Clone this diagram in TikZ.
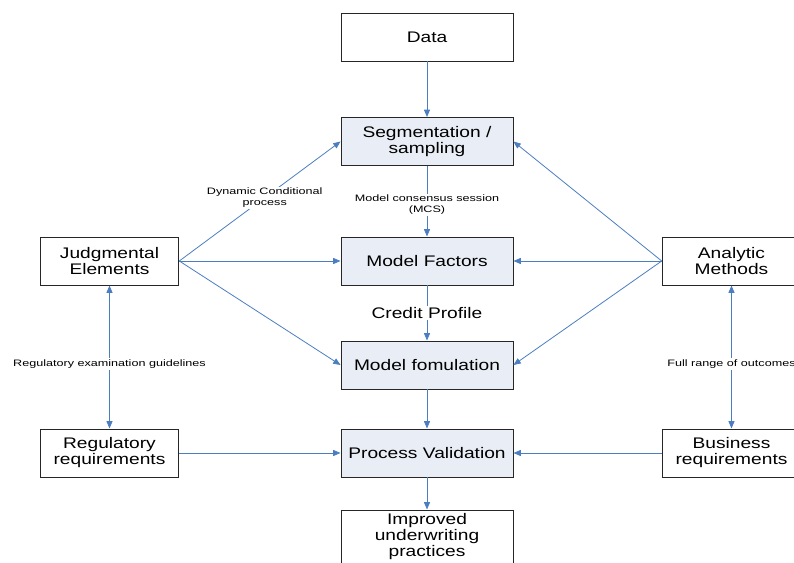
\documentclass[tikz,border=0pt]{standalone}
\usepackage{fontspec}
\setmainfont[FakeStretch=1.25]{Liberation Sans}
\newfontfamily\labelfont[FakeStretch=1.35]{Liberation Sans}
\usetikzlibrary{arrows.meta}
\definecolor{lineblue}{RGB}{74,126,193}
\definecolor{boxblue}{RGB}{233,238,246}

\begin{document}
\begin{tikzpicture}[x=0.75pt,y=-0.75pt,
  box/.style={draw=black!85,line width=0.7pt,minimum width=129pt,minimum height=36pt,
    inner sep=0pt,align=center,font=\fontsize{11.5}{12}\selectfont},
  stepbox/.style={box,fill=boxblue},
  sidebox/.style={box,minimum width=104pt},
  link/.style={draw=lineblue,line width=0.6pt,-{Triangle[length=5.5pt,width=4.5pt]}},
  twoway/.style={link,{Triangle[length=5.5pt,width=4.5pt]}-{Triangle[length=5.5pt,width=4.5pt]}},
  lbl/.style={fill=white,inner sep=1pt,align=center,text=black,
    font=\labelfont\fontsize{7}{8.2}\selectfont}]
  \useasboundingbox (0,0) rectangle (794,563);
  \clip (0,0) rectangle (794,563);

  \node[box] (data) at (427,37) {Data};
  \node[stepbox] (seg) at (427,141.5) {Segmentation /\\sampling};
  \node[stepbox] (factors) at (427,261) {Model Factors};
  \node[stepbox] (form) at (427,365) {Model fomulation};
  \node[stepbox] (valid) at (427,453) {Process Validation};
  \node[box,minimum height=40.5pt] (improved) at (427,537) {Improved\\underwriting\\practices};

  \node[sidebox] (judg) at (109.5,261) {Judgmental\\Elements};
  \node[sidebox] (reg) at (109.5,453) {Regulatory\\requirements};
  \node[sidebox] (analytic) at (731.5,261) {Analytic\\Methods};
  \node[sidebox] (business) at (731.5,453) {Business\\requirements};

  \draw[link] (data) -- (seg);
  \draw[link] (seg) -- node[lbl,pos=0.55] {Model consensus session\\(MCS)} (factors);
  \draw[link] (factors) -- node[lbl,font=\fontsize{11.5}{12}\selectfont] {Credit Profile} (form);
  \draw[link] (form) -- (valid);
  \draw[link] (valid) -- (improved);

  \draw[link] (judg.east) -- node[lbl,pos=0.53] {Dynamic Conditional\\process} (seg.west);
  \draw[link] (judg.east) -- (factors);
  \draw[link] (judg.east) -- (form.west);
  \draw[twoway] (judg) -- node[lbl,pos=0.55] {Regulatory examination guidelines} (reg);
  \draw[link] (reg) -- (valid);

  \draw[link] (analytic.west) -- (seg.east);
  \draw[link] (analytic.west) -- (factors);
  \draw[link] (analytic.west) -- (form.east);
  \draw[twoway] (analytic) -- node[lbl,pos=0.55] {Full range of outcomes} (business);
  \draw[link] (business) -- (valid);
\end{tikzpicture}
\end{document}
